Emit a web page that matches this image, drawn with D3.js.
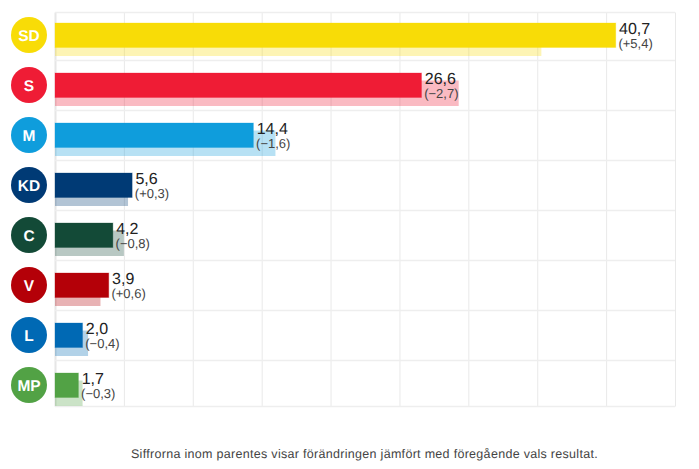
<!DOCTYPE html>
<html lang="sv">
<head>
<meta charset="utf-8">
<title>Valresultat</title>
<script src="https://cdn.jsdelivr.net/npm/d3@7"></script>
<style>
    body { margin: 0; background: #fff; }
    svg { display: block; font-family: "Liberation Sans", Arial, sans-serif; text-rendering: geometricPrecision; }
</style>
</head>
<body>
<svg id="chart" width="699" height="469"></svg>
<script>

const parties = ['SD', 'S', 'M', 'KD', 'C', 'V', 'L', 'MP'];
const results = [40.7, 26.6, 14.4, 5.6, 4.2, 3.9, 2.0, 1.7];
const previous = [35.3, 29.3, 16.0, 5.3, 5.0, 3.3, 2.4, 2.0];
const changes = [5.4, -2.7, -1.6, 0.3, -0.8, 0.6, -0.4, -0.3];
const partyColors = ['#f8dc07', '#ef1c35', '#0f9ddc', '#003a75', '#134a37', '#b40008', '#0069b4', '#52a245'];
const gridTicks = [0, 5, 10, 15, 20, 25, 30, 35, 40, 45];
const footnote = 'Siffrorna inom parentes visar förändringen jämfört med föregående vals resultat.';

const svg = d3.select('#chart');
const plotTop = 12.5, plotBottom = 406.5;

const x = d3.scaleLinear().domain([0, 45]).range([55, 675]);
const y = d3.scaleBand().domain(parties).range([10.5, 410.5]);
const color = d3.scaleOrdinal().domain(parties).range(partyColors);

// numbers use swedish decimal comma and a real minus sign
const sv = d3.formatLocale({ decimal: ',', thousands: ' ', grouping: [3], currency: ['', ' kr'], minus: '\u2212' });
const fmtValue = sv.format('.1f');
const fmtChange = sv.format('+.1f');

// vertical grid
svg.append('g')
    .attr('transform', `translate(0,${plotBottom})`)
    .call(d3.axisBottom(x).tickValues(gridTicks).tickSize(plotTop - plotBottom).tickFormat(''))
    .call(g => g.select('.domain').remove())
    .call(g => g.selectAll('line')
        .attr('stroke', (d) => d == 0 ? '#e6e6e6' : '#e9e9e9')
        .attr('stroke-width', (d) => d == 0 ? 2 : 1));

// horizontal grid: one line between each row, plus top and bottom
const rowLines = [plotTop, ...parties.slice(1).map(p => y(p)), plotBottom];
svg.append('g').selectAll('line')
    .data(rowLines)
    .join('line')
    .attr('x1', x(0))
    .attr('x2', x(45))
    .attr('y1', d => d)
    .attr('y2', d => d)
    .attr('stroke', '#eeeeee')
    .attr('stroke-width', 1.5);

const rows = svg.append('g').selectAll('g')
    .data(parties)
    .join('g')
    .attr('transform', d => `translate(0,${y(d)})`);

// previous election, the pale bar behind
rows.append('rect')
    .attr('x', x(0))
    .attr('y', 20)
    .attr('width', (d, i) => x(previous[i]) - x(0))
    .attr('height', 25.5)
    .attr('fill', d => color(d))
    .attr('opacity', 0.3);

rows.append('rect')
    .attr('x', x(0))
    .attr('y', 12.5)
    .attr('width', (d, i) => x(results[i]) - x(0))
    .attr('height', 24.5)
    .attr('fill', d => color(d))
    .attr('stroke', d => color(d))
    .attr('stroke-opacity', 0.3)
    .attr('stroke-width', 1);

rows.append('circle')
    .attr('cx', 29)
    .attr('cy', y.bandwidth() / 2 - 0.5)
    .attr('r', 18)
    .attr('fill', d => color(d));

rows.append('text')
    .attr('x', 29)
    .attr('y', y.bandwidth() / 2 + 5)
    .attr('text-anchor', 'middle')
    .attr('fill', '#fff')
    .attr('font-weight', 'bold')
    .attr('font-size', 15.5)
    .text(d => d);

rows.append('text')
    .attr('x', (d, i) => x(results[i]) + 3.3)
    .attr('y', 23.5)
    .attr('fill', '#222')
    .attr('font-size', 16)
    .text((d, i) => fmtValue(results[i]));

rows.append('text')
    .attr('x', (d, i) => x(results[i]) + 2.7)
    .attr('y', 37.5)
    .attr('fill', '#444')
    .attr('font-size', 13)
    .text((d, i) => `(${fmtChange(changes[i])})`);

svg.append('text')
    .attr('x', 364.5)
    .attr('y', 457.5)
    .attr('text-anchor', 'middle')
    .attr('fill', '#444')
    .attr('font-size', 12.5)
    .attr('letter-spacing', 0.3)
    .text(footnote);

</script>
</body>
</html>
